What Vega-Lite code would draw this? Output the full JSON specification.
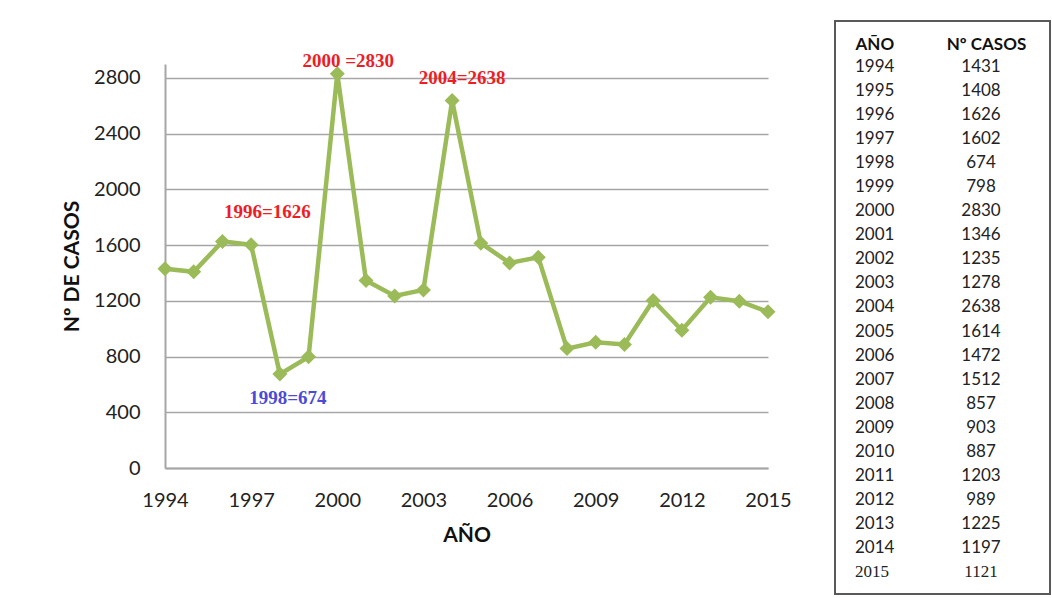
{
  "$schema": "https://vega.github.io/schema/vega-lite/v6.json",
  "padding": {"left": 61, "top": 20, "right": 0, "bottom": 0},
  "background": "white",
  "spacing": 67,
  "bounds": "flush",
  "config": {"font": "Lato", "view": {"stroke": null}},
  "datasets": {
    "casos": [
      {"year": 1994, "casos": 1431},
      {"year": 1995, "casos": 1408},
      {"year": 1996, "casos": 1626, "label": "1996=1626"},
      {"year": 1997, "casos": 1602},
      {"year": 1998, "casos": 674, "label": "1998=674"},
      {"year": 1999, "casos": 798},
      {"year": 2000, "casos": 2830, "label": "2000 =2830"},
      {"year": 2001, "casos": 1346},
      {"year": 2002, "casos": 1235},
      {"year": 2003, "casos": 1278},
      {"year": 2004, "casos": 2638, "label": "2004=2638"},
      {"year": 2005, "casos": 1614},
      {"year": 2006, "casos": 1472},
      {"year": 2007, "casos": 1512},
      {"year": 2008, "casos": 857},
      {"year": 2009, "casos": 903},
      {"year": 2010, "casos": 887},
      {"year": 2011, "casos": 1203},
      {"year": 2012, "casos": 989},
      {"year": 2013, "casos": 1225},
      {"year": 2014, "casos": 1197},
      {"year": 2015, "casos": 1121}
    ]
  },
  "hconcat": [
    {
      "width": 603,
      "height": 447,
      "data": {"name": "casos"},
      "encoding": {
        "x": {
          "field": "year", "type": "quantitative",
          "scale": {"domain": [1994, 2015], "nice": false, "zero": false},
          "axis": {
            "values": [1994, 1997, 2000, 2003, 2006, 2009, 2012, 2015],
            "format": "d", "grid": false, "ticks": false, "tickSize": 0,
            "domainColor": "#a6a6a6", "domainWidth": 2,
            "labelFont": "Lato", "labelFontSize": 20, "labelColor": "#222222",
            "labelPadding": 22, "labelFlush": false,
            "title": "AÑO", "titleFont": "Lato", "titleFontSize": 21,
            "titleFontWeight": "bold", "titleColor": "#111111", "titlePadding": 14
          }
        },
        "y": {
          "field": "casos", "type": "quantitative",
          "scale": {"domain": [0, 2900], "range": [447, 43], "nice": false, "zero": true},
          "axis": {
            "values": [0, 400, 800, 1200, 1600, 2000, 2400, 2800],
            "format": "d",
            "grid": true, "gridColor": "#a6a6a6", "gridWidth": 1.5,
            "ticks": false, "tickSize": 0,
            "domainColor": "#a6a6a6", "domainWidth": 2,
            "labelFont": "Lato", "labelFontSize": 20, "labelColor": "#222222",
            "labelPadding": 25,
            "title": "Nº DE CASOS", "titleFont": "Lato", "titleFontSize": 21,
            "titleFontWeight": "bold", "titleColor": "#111111", "titlePadding": 11
          }
        }
      },
      "layer": [
        {"mark": {"type": "line", "color": "#9BBB59", "strokeWidth": 4.5}},
        {"mark": {"type": "point", "shape": "diamond", "filled": true, "size": 225, "color": "#9BBB59", "opacity": 1}},
        {
          "transform": [{"filter": "datum.year == 2000"}],
          "mark": {"type": "text", "font": "Liberation Serif", "fontWeight": "bold", "fontSize": 19, "color": "#ee1c24", "dx": 11, "dy": -13},
          "encoding": {"text": {"field": "label", "type": "nominal"}}
        },
        {
          "transform": [{"filter": "datum.year == 1996"}],
          "mark": {"type": "text", "font": "Liberation Serif", "fontWeight": "bold", "fontSize": 19, "color": "#ee1c24", "dx": 45, "dy": -29},
          "encoding": {"text": {"field": "label", "type": "nominal"}}
        },
        {
          "transform": [{"filter": "datum.year == 2004"}],
          "mark": {"type": "text", "font": "Liberation Serif", "fontWeight": "bold", "fontSize": 19, "color": "#ee1c24", "dx": 10, "dy": -22},
          "encoding": {"text": {"field": "label", "type": "nominal"}}
        },
        {
          "transform": [{"filter": "datum.year == 1998"}],
          "mark": {"type": "text", "font": "Liberation Serif", "fontWeight": "bold", "fontSize": 19, "color": "#4b4bd6", "dx": 8, "dy": 24},
          "encoding": {"text": {"field": "label", "type": "nominal"}}
        }
      ]
    },
    {
      "width": 215,
      "height": 573,
      "view": {"stroke": "#595959", "strokeWidth": 2},
      "data": {"name": "casos"},
      "encoding": {
        "y": {"field": "year", "type": "ordinal", "scale": {"type": "point", "range": [46, 551], "padding": 0}, "axis": null}
      },
      "layer": [
        {
          "transform": [{"filter": "datum.year != 2015"}],
          "mark": {"type": "text", "align": "left", "baseline": "middle", "font": "Lato", "fontSize": 17, "color": "#222222"},
          "encoding": {
            "x": {
              "datum": "AÑO", "type": "nominal",
              "scale": {"type": "point", "domain": ["AÑO", "Nº CASOS"], "range": [20, 151], "padding": 0},
              "axis": {
                "orient": "top", "offset": -28, "domain": false, "ticks": false, "tickSize": 0, "grid": false,
                "labelPadding": 0, "labelAngle": 0, "labelBaseline": "alphabetic",
                "labelAlign": {"condition": {"test": "datum.value == 'AÑO'", "value": "left"}, "value": "center"},
                "labelFont": "Lato", "labelFontSize": 17, "labelFontWeight": "bold", "labelColor": "#111111",
                "title": null
              }
            },
            "text": {"field": "year", "type": "nominal"}
          }
        },
        {
          "transform": [{"filter": "datum.year != 2015"}],
          "mark": {"type": "text", "align": "center", "baseline": "middle", "font": "Lato", "fontSize": 17, "color": "#222222", "dx": -5},
          "encoding": {
            "x": {"datum": "Nº CASOS", "type": "nominal"},
            "text": {"field": "casos", "type": "nominal"}
          }
        },
        {
          "transform": [{"filter": "datum.year == 2015"}],
          "mark": {"type": "text", "align": "left", "baseline": "middle", "font": "Liberation Serif", "fontSize": 17, "color": "#222222"},
          "encoding": {
            "x": {"datum": "AÑO", "type": "nominal"},
            "text": {"field": "year", "type": "nominal"}
          }
        },
        {
          "transform": [{"filter": "datum.year == 2015"}],
          "mark": {"type": "text", "align": "center", "baseline": "middle", "font": "Liberation Serif", "fontSize": 17, "color": "#222222", "dx": -5},
          "encoding": {
            "x": {"datum": "Nº CASOS", "type": "nominal"},
            "text": {"field": "casos", "type": "nominal"}
          }
        }
      ]
    }
  ]
}
